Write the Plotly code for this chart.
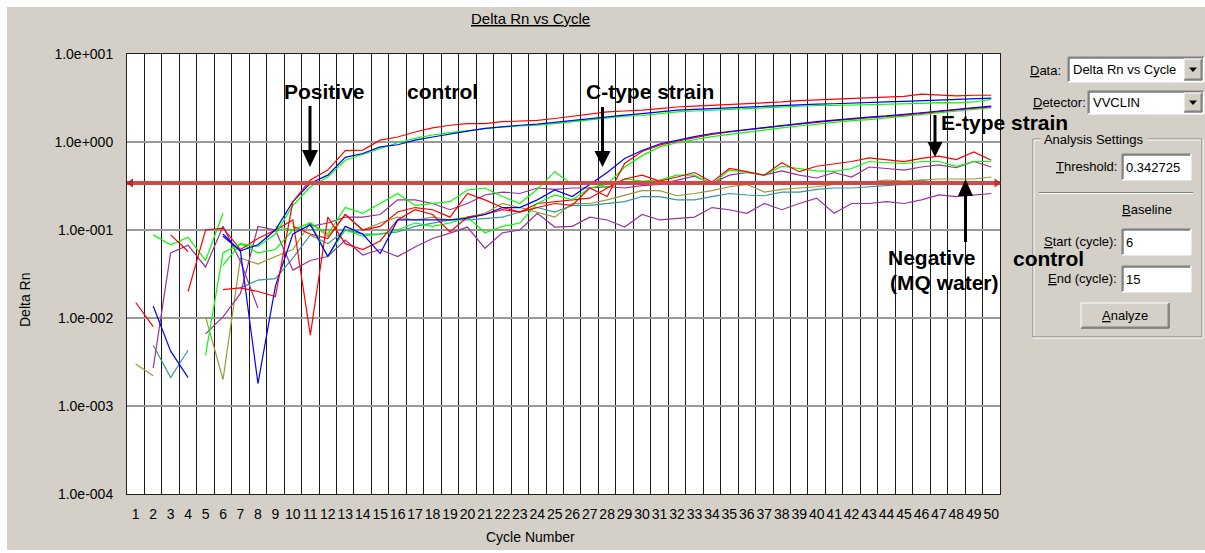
import math
import plotly.graph_objects as go

# ---------------- data ----------------
cycles = list(range(1, 51))
threshold = 0.342725
baseline_start = 6
baseline_end = 15

pos_red = [None, None, None, None, None, 0.021, 0.022, 0.020, 0.0175, 0.21,
           0.37, 0.48, 0.80, 0.81, 1.05, 1.14, 1.30, 1.45, 1.55, 1.62,
           1.62, 1.70, 1.72, 1.76, 1.85, 1.95, 2.05, 2.20, 2.25, 2.30,
           2.40, 2.50, 2.55, 2.60, 2.65, 2.70, 2.75, 2.85, 2.95, 3.00,
           3.10, 3.10, 3.15, 3.20, 3.30, 3.50, 3.40, 3.35, 3.40, 3.40]
pos_blue = [None, 0.0137, 0.0042, 0.0021, None, 0.085, 0.058, 0.068, 0.10, 0.21,
            0.34, 0.42, 0.67, 0.74, 0.88, 0.93, 1.05, 1.14, 1.24, 1.33,
            1.43, 1.50, 1.55, 1.60, 1.68, 1.75, 1.85, 1.95, 2.02, 2.10,
            2.20, 2.30, 2.35, 2.40, 2.45, 2.50, 2.55, 2.60, 2.65, 2.70,
            2.72, 2.75, 2.80, 2.85, 2.90, 2.95, 3.00, 3.05, 3.10, 3.15]
pos_green = [None, None, None, None, 0.0038, 0.055, 0.07, 0.065, 0.09, 0.19,
             0.31, 0.40, 0.62, 0.72, 0.85, 0.98, 1.10, 1.20, 1.28, 1.35,
             1.42, 1.48, 1.52, 1.55, 1.62, 1.70, 1.78, 1.90, 1.97, 2.00,
             2.10, 2.20, 2.25, 2.30, 2.35, 2.40, 2.45, 2.50, 2.55, 2.60,
             2.60, 2.62, 2.65, 2.68, 2.72, 2.75, 2.80, 2.78, 2.85, 3.05]

c_blue = [None, None, None, None, None, 0.09, 0.057, 0.0018, 0.023, 0.09,
          0.115, 0.05, 0.11, 0.09, 0.054, 0.13, 0.13, 0.13, 0.13, 0.136,
          0.15, 0.18, 0.18, 0.22, 0.285, 0.24, 0.33, 0.45, 0.65, 0.80,
          0.95, 1.05, 1.15, 1.25, 1.32, 1.40, 1.47, 1.55, 1.62, 1.70,
          1.78, 1.85, 1.92, 1.98, 2.05, 2.15, 2.25, 2.35, 2.45, 2.55]
c_red = [0.015, 0.008, None, 0.02, 0.10, 0.105, 0.06, 0.08, 0.10, 0.13,
         0.0064, 0.14, 0.07, 0.06, 0.075, 0.13, 0.17, 0.15, 0.095, 0.14,
         0.15, 0.17, 0.16, 0.18, 0.20, 0.19, 0.30, 0.24, 0.57, 0.78,
         0.92, 1.02, 1.12, 1.22, 1.30, 1.38, 1.45, 1.52, 1.60, 1.67,
         1.75, 1.82, 1.90, 1.95, 2.02, 2.12, 2.22, 2.32, 2.42, 2.50]
c_green = [None, None, None, None, None, 0.04, 0.07, 0.055, 0.06, 0.10,
           0.12, 0.05, 0.10, 0.085, 0.09, 0.10, 0.12, 0.11, 0.12, 0.14,
           0.093, 0.11, 0.12, 0.20, 0.25, 0.22, 0.30, 0.33, 0.52, 0.70,
           0.88, 0.98, 1.07, 1.15, 1.22, 1.30, 1.38, 1.45, 1.52, 1.60,
           1.68, 1.75, 1.80, 1.88, 1.95, 2.05, 2.15, 2.25, 2.35, 2.45]

e_red = [None, None, 0.088, 0.057, None, None, None, None, None, 0.11,
         0.09, 0.08, 0.15, 0.10, 0.11, 0.16, 0.18, 0.17, 0.14, 0.26,
         0.22, 0.18, 0.16, 0.20, 0.21, 0.22, 0.23, 0.30, 0.38, 0.42,
         0.36, 0.40, 0.45, 0.35, 0.50, 0.46, 0.42, 0.58, 0.46, 0.53,
         0.56, 0.60, 0.66, 0.63, 0.60, 0.65, 0.69, 0.63, 0.77, 0.62]
e_green = [None, 0.088, 0.068, 0.083, 0.045, 0.155, None, None, 0.11, 0.10,
           0.12, 0.09, 0.18, 0.155, 0.20, 0.26, 0.19, 0.20, 0.21, 0.285,
           0.30, 0.24, 0.20, 0.29, 0.46, 0.33, 0.35, 0.30, 0.38, 0.36,
           0.37, 0.42, 0.42, 0.33, 0.48, 0.45, 0.42, 0.53, 0.50, 0.47,
           0.46, 0.50, 0.60, 0.58, 0.57, 0.60, 0.60, 0.53, 0.60, 0.60]
e_purple = [None, 0.0027, 0.055, 0.067, 0.038, 0.11, 0.044, 0.013, None, None,
            0.11, 0.12, 0.14, 0.14, 0.15, 0.22, 0.22, 0.20, 0.17, 0.20,
            0.25, 0.27, 0.26, 0.30, 0.29, 0.30, 0.30, 0.31, 0.30, 0.32,
            0.33, 0.37, 0.41, 0.34, 0.42, 0.45, 0.42, 0.47, 0.42, 0.39,
            0.45, 0.40, 0.52, 0.50, 0.48, 0.52, 0.55, 0.51, 0.60, 0.52]

neg_olive = [0.003, 0.0022, None, None, 0.0103, 0.002, 0.048, 0.041, 0.05, 0.06,
             0.12, 0.085, 0.15, 0.10, 0.12, 0.14, 0.13, 0.14, 0.13, 0.14,
             0.155, 0.20, 0.18, 0.16, 0.14, 0.20, 0.20, 0.22, 0.25, 0.28,
             0.28, 0.245, 0.26, 0.28, 0.31, 0.33, 0.27, 0.29, 0.30, 0.31,
             0.33, 0.34, 0.35, 0.37, 0.36, 0.37, 0.38, 0.38, 0.38, 0.40]
neg_teal = [None, 0.0049, 0.0021, 0.0043, None, None, 0.022, 0.027, 0.028, 0.048,
            0.088, 0.07, 0.10, 0.09, 0.09, 0.095, 0.11, 0.12, 0.13, 0.13,
            0.136, 0.14, 0.16, 0.18, 0.16, 0.19, 0.19, 0.20, 0.21, 0.24,
            0.24, 0.22, 0.22, 0.24, 0.26, 0.25, 0.245, 0.27, 0.27, 0.29,
            0.30, 0.30, 0.31, 0.32, 0.33, 0.37, 0.34, 0.35, 0.34, 0.345]
neg_purple = [None, None, None, None, 0.0066, 0.0103, 0.019, 0.11, 0.10, 0.035,
              0.045, 0.05, 0.077, 0.052, 0.06, 0.05, 0.064, 0.08, 0.092, 0.108,
              0.062, 0.093, 0.10, 0.155, 0.108, 0.11, 0.14, 0.13, 0.108, 0.15,
              0.13, 0.135, 0.14, 0.18, 0.17, 0.155, 0.20, 0.17, 0.20, 0.23,
              0.155, 0.20, 0.20, 0.21, 0.20, 0.22, 0.25, 0.24, 0.25, 0.26]

ytick_vals = [1e-4, 1e-3, 1e-2, 1e-1, 1e0, 1e1]
ytick_text = ["1.0e%+04d" % round(math.log10(v)) for v in ytick_vals]
xtick_text = [str(c) for c in cycles]

RED, BLUE, GREEN = "#FF0000", "#0000FF", "#00FF00"
PURPLE, OLIVE, TEAL = "#993399", "#999933", "#339999"

traces = [
    ("Negative olive", neg_olive, OLIVE),
    ("Negative teal", neg_teal, TEAL),
    ("Negative purple", neg_purple, PURPLE),
    ("E-type purple", e_purple, PURPLE),
    ("E-type green", e_green, GREEN),
    ("E-type red", e_red, RED),
    ("C-type green", c_green, GREEN),
    ("C-type red", c_red, RED),
    ("C-type blue", c_blue, BLUE),
    ("Positive green", pos_green, GREEN),
    ("Positive blue", pos_blue, BLUE),
    ("Positive red", pos_red, RED),
]

# ---------------- geometry helpers ----------------
W, H = 1205, 553
L, R, T, B = 127, 205, 54, 59
PW = W - L - R
PH = H - T - B
PANEL = "#D4D0C8"
FONT = "Liberation Sans, Arial, sans-serif"


def X(px):
    return (px - L) / PW


def Y(py):
    return (H - B - py) / PH


shapes = []
annotations = []


def rect(x0, y0, x1, y1, fill, line=None, width=1, layer="above"):
    shapes.append(dict(type="rect", xref="paper", yref="paper",
                       x0=X(x0), x1=X(x1), y0=Y(y1), y1=Y(y0),
                       fillcolor=fill, layer=layer,
                       line=dict(color=line if line else fill, width=width if line else 0)))


def seg(x0, y0, x1, y1, color, width=1):
    shapes.append(dict(type="line", xref="paper", yref="paper",
                       x0=X(x0), x1=X(x1), y0=Y(y0), y1=Y(y1),
                       line=dict(color=color, width=width)))


def tri(points, color):
    path = "M " + " L ".join("%.5f,%.5f" % (X(a), Y(b)) for a, b in points) + " Z"
    shapes.append(dict(type="path", xref="paper", yref="paper", path=path,
                       fillcolor=color, line=dict(color=color, width=0)))


def label(px, py, text, size=13, anchor="left", bg=None, angle=0):
    d = dict(xref="paper", yref="paper", x=X(px), y=Y(py), text=text,
             showarrow=False, xanchor=anchor, yanchor="middle", textangle=angle,
             font=dict(family=FONT, size=size, color="black"), borderpad=0)
    if bg:
        d["bgcolor"] = bg
    annotations.append(d)


def sunken(x0, y0, x1, y1):
    rect(x0, y0, x1, y1, "white")
    seg(x0, y0, x1, y0, "#808080")
    seg(x0, y0, x0, y1, "#808080")
    seg(x0 + 1, y0 + 1, x1 - 1, y0 + 1, "#404040")
    seg(x0 + 1, y0 + 1, x0 + 1, y1 - 1, "#404040")
    seg(x0, y1, x1, y1, "#FFFFFF")
    seg(x1, y0, x1, y1, "#FFFFFF")


def raised(x0, y0, x1, y1):
    rect(x0, y0, x1, y1, PANEL)
    seg(x0, y0, x1, y0, "#FFFFFF")
    seg(x0, y0, x0, y1, "#FFFFFF")
    seg(x0, y1, x1, y1, "#404040")
    seg(x1, y0, x1, y1, "#404040")
    seg(x0 + 1, y1 - 1, x1 - 1, y1 - 1, "#808080")
    seg(x1 - 1, y0 + 1, x1 - 1, y1 - 1, "#808080")


def dropdown(x0, y0, x1, y1, text):
    sunken(x0, y0, x1, y1)
    bx0, bx1 = x1 - 20, x1 - 2
    raised(bx0, y0 + 2, bx1, y1 - 2)
    cx, cy = (bx0 + bx1) / 2, (y0 + y1) / 2
    tri([(cx - 4, cy - 2), (cx + 4, cy - 2), (cx, cy + 2.5)], "black")
    label(x0 + 4, (y0 + y1) / 2, text)


# background panel and plot area
rect(7, 7, W, 550, PANEL, layer="below")
rect(L, T, L + PW, T + PH, "white", layer="below")

# threshold line with arrow heads
shapes.append(dict(type="line", xref="paper", yref="y", x0=0, x1=1,
                   y0=threshold, y1=threshold,
                   line=dict(color="#D84545", width=4)))
ty_px = (H - B) - PH * (math.log10(threshold) + 4) / 5
tri([(L - 0.5, ty_px), (L + 6, ty_px - 4.5), (L + 6, ty_px + 4.5)], "#B02828")
tri([(L + PW + 1, ty_px), (L + PW - 5.5, ty_px - 4.5), (L + PW - 5.5, ty_px + 4.5)], "#C03030")


# black annotation arrows (shaft + head)
def arrow(x, y_tail, y_base, y_tip, half=8):
    seg(x, y_tail, x, y_base, "black", 3)
    tri([(x - half, y_base), (x + half, y_base), (x, y_tip)], "black")


arrow(310, 106, 150, 167)
arrow(602.5, 107, 151, 167)
arrow(935, 115, 142, 157, half=7.5)
arrow(965.5, 242, 196, 179, half=7.5)

# bold text labels
BIG = 21
for px, py, txt in [(324, 92, "Positive"), (442, 92, "control"), (650, 92, "C-type strain"),
                    (1004, 122, "E-type strain"), (932, 257, "Negative"),
                    (1048, 258, "control"), (944, 282, "(MQ water)")]:
    annotations.append(dict(xref="paper", yref="paper", x=X(px), y=Y(py),
                            text="<b>%s</b>" % txt, showarrow=False,
                            xanchor="center", yanchor="middle",
                            font=dict(family=FONT, size=BIG, color="black")))

# title and axis titles
label(530, 18, "<u>Delta Rn vs Cycle</u>", size=15, anchor="center")
label(25, 300, "Delta Rn", size=14, anchor="center", angle=-90)
label(530, 537, "Cycle Number", size=14, anchor="center")

# right-hand control panel
label(1062, 70, "<u>D</u>ata:", anchor="right")
dropdown(1068, 57, 1204, 82, "Delta Rn vs Cycle")
label(1087, 103, "<u>D</u>etector:", anchor="right")
dropdown(1088, 91, 1204, 114, "VVCLIN")

# group box
seg(1033, 139, 1202, 139, "#808080")
seg(1033, 139, 1033, 337, "#808080")
seg(1033, 337, 1202, 337, "#808080")
seg(1202, 139, 1202, 337, "#808080")
seg(1034, 140, 1201, 140, "#FFFFFF")
seg(1034, 140, 1034, 336, "#FFFFFF")
seg(1033, 338, 1203, 338, "#FFFFFF")
seg(1203, 139, 1203, 338, "#FFFFFF")
label(1040, 139, " Analysis Settings ", anchor="left", bg=PANEL)

label(1118, 166, "<u>T</u>hreshold:", anchor="right")
sunken(1122, 154, 1191, 180)
label(1125, 167, "%.6f" % threshold)

seg(1039, 192.5, 1193, 192.5, "#808080")
seg(1039, 193.5, 1193, 193.5, "#FFFFFF")
label(1147, 210, "<u>B</u>aseline", anchor="center")

label(1118, 241, "<u>S</u>tart (cycle):", anchor="right")
sunken(1122, 229, 1191, 255)
label(1125, 242, str(baseline_start))

label(1118, 278, "<u>E</u>nd (cycle):", anchor="right")
sunken(1122, 266, 1191, 292)
label(1125, 279, str(baseline_end))

raised(1081, 303, 1169, 328)
label(1125, 315.5, "<u>A</u>nalyze", anchor="center")

# ---------------- figure ----------------
fig = go.Figure()
for name, vals, color in traces:
    fig.add_trace(go.Scatter(x=cycles, y=vals, mode="lines", name=name,
                             line=dict(color=color, width=1.2),
                             showlegend=False, hoverinfo="skip"))

fig.update_layout(
    width=W, height=H, autosize=False,
    margin=dict(l=L, r=R, t=T, b=B, pad=0),
    paper_bgcolor="white", plot_bgcolor="white",
    font=dict(family=FONT, size=14, color="black"),
    showlegend=False,
    shapes=shapes, annotations=annotations,
    xaxis=dict(range=[0.5, 50.5], tickmode="array", tickvals=cycles, ticktext=xtick_text,
               tickangle=0, automargin=False,
               showgrid=False, zeroline=False, showline=True, mirror=True,
               linecolor="#202020", linewidth=1,
               ticks="outside", ticklen=7, tickcolor="rgba(0,0,0,0)",
               tickfont=dict(family=FONT, size=14, color="black"),
               minor=dict(tickmode="array", tickvals=[c + 0.5 for c in cycles[:-1]],
                          showgrid=True, gridcolor="#1a1a1a", gridwidth=1, ticks="")),
    yaxis=dict(type="log", range=[-4, 1], tickmode="array", tickvals=ytick_vals,
               ticktext=ytick_text, showgrid=True, gridcolor="#9a9a9a", gridwidth=1.5,
               automargin=False,
               zeroline=False, showline=True, mirror=True, linecolor="#202020", linewidth=1,
               ticks="outside", ticklen=10, tickcolor="rgba(0,0,0,0)",
               tickfont=dict(family=FONT, size=14, color="black")),
)

fig.write_html("out.html", config={"displayModeBar": False},
               post_script="document.body.style.margin='0';document.body.style.overflow='hidden';")
